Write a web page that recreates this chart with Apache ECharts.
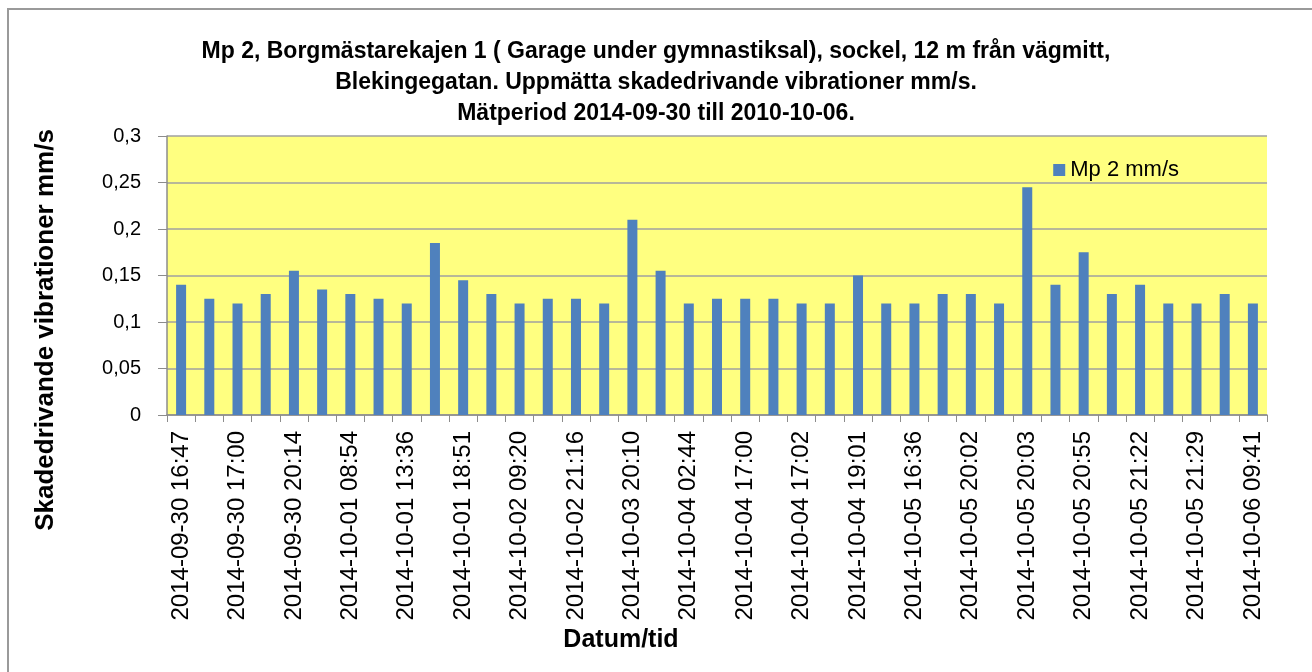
<!DOCTYPE html>
<html>
<head>
<meta charset="utf-8">
<script src="https://cdn.jsdelivr.net/npm/echarts@6/dist/echarts.min.js"></script>
<style>
  html, body { margin: 0; padding: 0; background: #ffffff; }
  #chart { width: 1312px; height: 672px; }
</style>
</head>
<body>
<div id="chart"></div>
<script>
  // mätpunkter (var annan etikett visas på axeln)
  var categories = [
    '2014-09-30 16:47', '2014-09-30 16:55', '2014-09-30 17:00', '2014-09-30 19:12',
    '2014-09-30 20:14', '2014-09-30 23:40', '2014-10-01 08:54', '2014-10-01 11:05',
    '2014-10-01 13:36', '2014-10-01 16:20', '2014-10-01 18:51', '2014-10-02 07:45',
    '2014-10-02 09:20', '2014-10-02 17:30', '2014-10-02 21:16', '2014-10-03 08:02',
    '2014-10-03 20:10', '2014-10-03 22:48', '2014-10-04 02:44', '2014-10-04 11:17',
    '2014-10-04 17:00', '2014-10-04 17:01', '2014-10-04 17:02', '2014-10-04 18:30',
    '2014-10-04 19:01', '2014-10-05 09:12', '2014-10-05 16:36', '2014-10-05 19:48',
    '2014-10-05 20:02', '2014-10-05 20:02', '2014-10-05 20:03', '2014-10-05 20:20',
    '2014-10-05 20:55', '2014-10-05 21:10', '2014-10-05 21:22', '2014-10-05 21:25',
    '2014-10-05 21:29', '2014-10-06 02:15', '2014-10-06 09:41'
  ];
  var mp2Values = [
    0.14, 0.125, 0.12, 0.13, 0.155, 0.135, 0.13, 0.125, 0.12, 0.185,
    0.145, 0.13, 0.12, 0.125, 0.125, 0.12, 0.21, 0.155, 0.12, 0.125,
    0.125, 0.125, 0.12, 0.12, 0.15, 0.12, 0.12, 0.13, 0.13, 0.12,
    0.245, 0.14, 0.175, 0.13, 0.14, 0.12, 0.12, 0.13, 0.12
  ];
  var yTicks = { min: 0, max: 0.3, interval: 0.05 };
  var seriesName = 'Mp 2 mm/s';
  var titleLines = [
    'Mp 2, Borgmästarekajen 1 ( Garage under gymnastiksal), sockel, 12 m från vägmitt,',
    'Blekingegatan. Uppmätta skadedrivande vibrationer mm/s.',
    'Mätperiod 2014-09-30 till 2010-10-06.'
  ];

  var chartDom = document.getElementById('chart');
  var myChart = echarts.init(chartDom);
  var option;

  option = {
    backgroundColor: '#ffffff',
    animation: false,
    title: {
      text: titleLines.join('\n'),
      left: 'center',
      top: 31,
      textStyle: {
        fontFamily: 'Liberation Sans',
        fontSize: 23,
        fontWeight: 'bold',
        color: '#000000',
        lineHeight: 31
      }
    },
    legend: {
      data: [seriesName],
      right: 128,
      top: 154,
      itemWidth: 12,
      itemHeight: 12,
      icon: 'rect',
      textStyle: {
        fontFamily: 'Liberation Sans',
        fontSize: 22,
        color: '#000000'
      }
    },
    grid: {
      left: 167,
      right: 45,
      top: 136,
      bottom: 257,
      show: true,
      backgroundColor: '#ffff80',
      borderWidth: 0
    },
    graphic: [
      {
        type: 'rect',
        shape: { x: 8, y: 9, width: 1400, height: 800 },
        style: { fill: 'none', stroke: '#9a9a9a', lineWidth: 2 }
      },
      {
        type: 'text',
        x: 46,
        y: 330,
        rotation: Math.PI / 2,
        style: {
          text: 'Skadedrivande vibrationer mm/s',
          fontFamily: 'Liberation Sans',
          fontSize: 26,
          fontWeight: 'bold',
          fill: '#000000',
          align: 'center',
          verticalAlign: 'middle'
        }
      },
      {
        type: 'text',
        x: 621,
        y: 640,
        style: {
          text: 'Datum/tid',
          fontFamily: 'Liberation Sans',
          fontSize: 25,
          fontWeight: 'bold',
          fill: '#000000',
          align: 'center',
          verticalAlign: 'middle'
        }
      }
    ],
    xAxis: {
      type: 'category',
      data: categories,
      axisLine: { lineStyle: { color: '#8c8c8c', width: 1.5 } },
      axisTick: { show: true, interval: 0, length: 7, lineStyle: { color: '#8c8c8c' } },
      axisLabel: {
        interval: 1,
        rotate: 90,
        margin: 16,
        fontFamily: 'Liberation Sans',
        fontSize: 24,
        color: '#000000'
      }
    },
    yAxis: {
      type: 'value',
      min: yTicks.min,
      max: yTicks.max,
      interval: yTicks.interval,
      axisLine: { show: true, lineStyle: { color: '#8c8c8c', width: 1.5 } },
      axisTick: { show: true, length: 9, lineStyle: { color: '#8c8c8c' } },
      splitLine: { lineStyle: { color: '#a0a0a0', width: 1.5 } },
      axisLabel: {
        margin: 26,
        fontFamily: 'Liberation Sans',
        fontSize: 20,
        color: '#000000',
        formatter: function (v) {
          return String(Math.round(v * 100) / 100).replace('.', ',');
        }
      }
    },
    series: [
      {
        name: seriesName,
        type: 'bar',
        data: mp2Values,
        barWidth: 10,
        itemStyle: { color: '#4f81bd' }
      }
    ]
  };
  option && myChart.setOption(option);
</script>
</body>
</html>
